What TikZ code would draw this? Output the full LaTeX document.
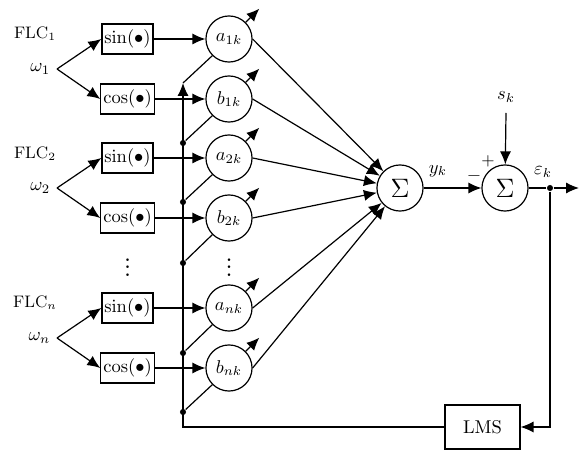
\documentclass[tikz,border=0pt]{standalone}
\usetikzlibrary{arrows.meta}
\begin{document}
\begin{tikzpicture}[x=0.5405pt,y=-0.5405pt,
  line width=0.65pt,
  >={Latex[length=7pt,width=6pt]},
  fbox/.style={draw, inner xsep=1.3pt, inner ysep=0pt, minimum height=16.2pt},
  wnode/.style={draw, circle, inner sep=0pt, minimum size=24.9pt},
  jdot/.style={circle, fill, inner sep=0pt, minimum size=3.3pt},
  flc/.style={font=\small},
  vdot/.style={font=\LARGE, inner sep=0pt}]
\useasboundingbox (0,0) rectangle (580,452);

% oscillator blocks
\node[fbox] (s1) at (127.5,39)  {$\sin(\bullet)$};
\node[fbox] (c1) at (127.5,99)  {$\cos(\bullet)$};
\node[fbox] (s2) at (127.5,158) {$\sin(\bullet)$};
\node[fbox] (c2) at (127.5,218) {$\cos(\bullet)$};
\node[fbox] (sn) at (127.5,308) {$\sin(\bullet)$};
\node[fbox] (cn) at (127.5,368) {$\cos(\bullet)$};
\node[vdot] (vd1) at (127.5,262) {$\vdots$};

% FLC labels and frequency inputs
\node[flc] (f1) at (35,34)  {FLC$_1$};
\node[flc] (f2) at (35,154) {FLC$_2$};
\node[flc] (fn) at (35,303) {FLC$_n$};
\coordinate (w1) at (57,69);
\coordinate (w2) at (57,188);
\coordinate (wn) at (57,338);
\node[anchor=east] (w1l) at (w1) {$\omega_1$};
\node[anchor=east] (w2l) at (w2) {$\omega_2$};
\node[anchor=east] (wnl) at (wn) {$\omega_n$};
\foreach \w/\s/\c in {w1/s1/c1, w2/s2/c2, wn/sn/cn} {
  \draw[->] (\w) -- (\s.west);
  \draw[->] (\w) -- (\c.west);
}

% adaptive weights
\node[wnode] (a1) at (229,39)  {$a_{1k}$};
\node[wnode] (b1) at (229,99)  {$b_{1k}$};
\node[wnode] (a2) at (229,158) {$a_{2k}$};
\node[wnode] (b2) at (229,218) {$b_{2k}$};
\node[wnode] (an) at (229,308) {$a_{nk}$};
\node[wnode] (bn) at (229,368) {$b_{nk}$};
\node[vdot] (vd2) at (229,262) {$\vdots$};

% summing junctions
\node[wnode] (S1) at (400,188) {\Large$\Sigma$};
\node[wnode] (S2) at (505,188) {\Large$\Sigma$};
\node (yk) at (438,171) {$y_k$};
\node (sk) at (506,97) {$s_k$};
\coordinate (skin) at (506,113);
\node (plus) at (488,161) {\small$+$};
\node (minus) at (474,176) {$-$};
\node (ek) at (543,172) {$\varepsilon_k$};
\node[jdot] (j) at (550,188) {};
\coordinate (out) at (579,188);

% LMS update
\node[draw, minimum width=40.5pt, minimum height=23.8pt] (lms) at (482.5,427) {LMS};
\coordinate (top) at (183,83);
\node[jdot] (d1) at (183,143) {};
\node[jdot] (d2) at (183,202) {};
\node[jdot] (d3) at (183,263) {};
\node[jdot] (d4) at (183,353) {};
\node[jdot] (d5) at (183,412) {};

% signal paths
\foreach \s/\t in {s1/a1, c1/b1, s2/a2, c2/b2, sn/an, cn/bn} {
  \draw[->] (\s) -- (\t);
}
\foreach \n in {a1,b1,a2,b2,an,bn} {
  \draw[->] (\n.45) -- ++(13.7,-13.7) coordinate (\n-adj);
  \draw[->] (\n.east) -- (S1);
}
\draw[->] (S1) -- (S2);
\draw[->] (skin) -- (S2);
\draw (S2) -- (j);
\draw[->] (j) -- (out);
\draw[->] (j) |- (lms);
\draw[->] (lms) -| (top);
\draw (top) -- (a1.225);
\foreach \d/\n in {d1/b1, d2/a2, d3/b2, d4/an, d5/bn} {
  \draw (\d) -- (\n.225);
}
\end{tikzpicture}
\end{document}
